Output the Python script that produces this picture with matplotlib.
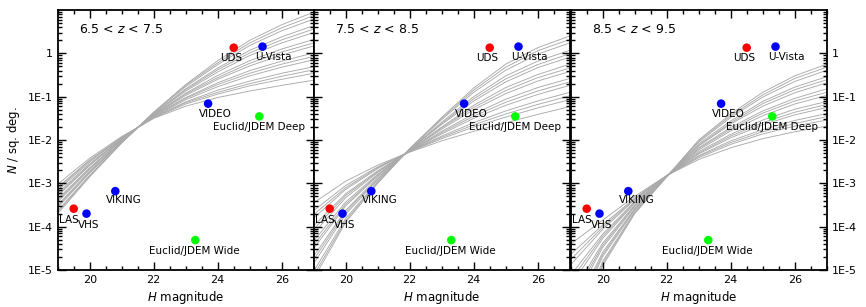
import numpy as np
import matplotlib.pyplot as plt
from matplotlib.ticker import FixedLocator, LogLocator, MultipleLocator, NullFormatter

# ------------------- Data: ---------------------------------------------------------
H_GRID = [19, 20, 21, 22, 23, 24, 25, 26, 27]

# log10 N(<H) per sq. deg., one row per model curve
LOGN_Z7 = [
    [-3.02, -2.42, -1.92, -1.50, -1.22, -1.02, -0.87, -0.74, -0.62],
    [-3.09, -2.46, -1.94, -1.49, -1.17, -0.94, -0.75, -0.60, -0.46],
    [-3.12, -2.48, -1.94, -1.48, -1.14, -0.90, -0.70, -0.53, -0.38],
    [-3.16, -2.51, -1.95, -1.47, -1.12, -0.85, -0.64, -0.46, -0.31],
    [-3.22, -2.55, -1.97, -1.46, -1.07, -0.77, -0.52, -0.32, -0.15],
    [-3.26, -2.57, -1.98, -1.45, -1.04, -0.72, -0.46, -0.25, -0.07],
    [-3.29, -2.59, -1.98, -1.44, -1.02, -0.68, -0.40, -0.18, 0.01],
    [-3.36, -2.64, -2.00, -1.43, -0.97, -0.60, -0.29, -0.04, 0.17],
    [-3.40, -2.66, -2.00, -1.42, -0.94, -0.56, -0.23, 0.03, 0.24],
    [-3.43, -2.68, -2.01, -1.42, -0.92, -0.51, -0.17, 0.10, 0.32],
    [-3.50, -2.72, -2.03, -1.40, -0.87, -0.43, -0.05, 0.24, 0.48],
    [-3.53, -2.74, -2.04, -1.40, -0.84, -0.38, 0.01, 0.31, 0.56],
    [-3.56, -2.76, -2.04, -1.39, -0.82, -0.34, 0.07, 0.38, 0.64],
    [-3.63, -2.81, -2.06, -1.37, -0.77, -0.26, 0.18, 0.52, 0.79],
    [-3.66, -2.83, -2.06, -1.36, -0.74, -0.22, 0.24, 0.59, 0.87],
    [-3.70, -2.85, -2.07, -1.36, -0.72, -0.17, 0.30, 0.66, 0.95],
]

LOGN_Z8 = [
    [-3.45, -2.95, -2.58, -2.28, -2.02, -1.80, -1.60, -1.41, -1.23],
    [-3.63, -3.05, -2.62, -2.27, -1.97, -1.70, -1.47, -1.26, -1.07],
    [-3.72, -3.10, -2.64, -2.26, -1.94, -1.65, -1.40, -1.18, -0.98],
    [-3.80, -3.14, -2.66, -2.26, -1.91, -1.60, -1.33, -1.10, -0.90],
    [-3.98, -3.24, -2.71, -2.26, -1.86, -1.50, -1.20, -0.95, -0.74],
    [-4.06, -3.28, -2.73, -2.26, -1.83, -1.45, -1.13, -0.87, -0.66],
    [-4.15, -3.33, -2.75, -2.25, -1.80, -1.40, -1.06, -0.79, -0.58],
    [-4.33, -3.43, -2.79, -2.24, -1.75, -1.30, -0.93, -0.64, -0.42],
    [-4.42, -3.48, -2.81, -2.24, -1.72, -1.25, -0.86, -0.56, -0.34],
    [-4.50, -3.52, -2.83, -2.23, -1.70, -1.20, -0.79, -0.49, -0.25],
    [-4.68, -3.62, -2.87, -2.22, -1.64, -1.10, -0.66, -0.33, -0.09],
    [-4.76, -3.66, -2.90, -2.22, -1.62, -1.05, -0.59, -0.26, -0.01],
    [-4.85, -3.71, -2.92, -2.22, -1.59, -1.00, -0.52, -0.18, 0.07],
    [-5.03, -3.81, -2.96, -2.21, -1.53, -0.90, -0.39, -0.02, 0.24],
    [-5.12, -3.86, -2.98, -2.20, -1.50, -0.85, -0.32, 0.06, 0.32],
    [-5.20, -3.90, -3.00, -2.20, -1.48, -0.80, -0.25, 0.13, 0.40],
]

LOGN_Z9 = [
    [-4.40, -3.85, -3.30, -2.82, -2.45, -2.18, -1.97, -1.81, -1.68],
    [-4.64, -3.96, -3.34, -2.82, -2.41, -2.10, -1.86, -1.68, -1.54],
    [-4.76, -4.01, -3.36, -2.82, -2.38, -2.06, -1.81, -1.62, -1.46],
    [-4.88, -4.06, -3.38, -2.83, -2.36, -2.02, -1.76, -1.55, -1.39],
    [-5.12, -4.17, -3.42, -2.83, -2.32, -1.95, -1.65, -1.42, -1.25],
    [-5.24, -4.22, -3.44, -2.83, -2.30, -1.91, -1.60, -1.36, -1.18],
    [-5.36, -4.27, -3.46, -2.83, -2.27, -1.87, -1.54, -1.29, -1.11],
    [-5.60, -4.38, -3.50, -2.84, -2.23, -1.79, -1.44, -1.17, -0.97],
    [-5.72, -4.43, -3.52, -2.84, -2.20, -1.75, -1.38, -1.10, -0.90],
    [-5.84, -4.48, -3.54, -2.84, -2.18, -1.71, -1.33, -1.04, -0.82],
    [-6.08, -4.59, -3.58, -2.84, -2.14, -1.63, -1.22, -0.91, -0.68],
    [-6.20, -4.64, -3.60, -2.84, -2.12, -1.60, -1.16, -0.84, -0.61],
    [-6.32, -4.69, -3.62, -2.84, -2.09, -1.56, -1.11, -0.78, -0.54],
    [-6.56, -4.80, -3.66, -2.85, -2.05, -1.48, -1.01, -0.65, -0.39],
    [-6.68, -4.85, -3.68, -2.85, -2.02, -1.44, -0.96, -0.58, -0.32],
    [-6.80, -4.90, -3.70, -2.85, -2.00, -1.40, -0.90, -0.52, -0.25],
]

PANEL_TITLES = ['6.5 < $z$ < 7.5', '7.5 < $z$ < 8.5', '8.5 < $z$ < 9.5']

SURVEYS = ['UDS', 'U-Vista', 'VIDEO', 'Euclid/JDEM Deep',
           'VIKING', 'LAS', 'VHS', 'Euclid/JDEM Wide']
SURVEY_H = [24.5, 25.4, 23.7, 25.3, 20.8, 19.5, 19.9, 23.3]
SURVEY_N = [1.35, 1.43, 0.069, 0.035, 6.6e-4, 2.6e-4, 2.0e-4, 4.9e-5]
SURVEY_COLORS = ['#ff0000', '#0000ff', '#0000ff', '#00ff00',
                 '#0000ff', '#ff0000', '#0000ff', '#00ff00']

YTICKS = [1e-5, 1e-4, 1e-3, 1e-2, 1e-1, 1]
YTICKLABELS = ['1E-5', '1E-4', '1E-3', '1E-2', '1E-1', '1']
XTICKS = [20, 22, 24, 26]

# label offsets from the dots, in pixels
LABEL_OFFSETS = [(-3, -10), (11, -10), (7, -10), (0, -11),
                 (8, -9), (-5, -11), (2, -11), (-1, -11)]

# ------------------- Plotting: -----------------------------------------------------
plt.rcParams['font.family'] = 'DejaVu Sans'
plt.rcParams['mathtext.fontset'] = 'dejavusans'

fig = plt.figure(figsize=(8.66, 3.07), dpi=100)

panel_w = 256 / 866.0
panel_h = 260 / 307.0
bottom = 37 / 307.0
lefts = [57.7 / 866.0, 313.7 / 866.0, 570.7 / 866.0]

curves = [LOGN_Z7, LOGN_Z8, LOGN_Z9]

for i in range(3):
    ax = fig.add_axes([lefts[i], bottom, panel_w, panel_h])

    for row in curves[i]:
        ax.plot(H_GRID, 10 ** np.array(row), color='#aaaaaa', lw=0.65, zorder=1)

    ax.scatter(SURVEY_H, SURVEY_N, s=38, c=SURVEY_COLORS, zorder=3, linewidths=0)
    for name, h, n, off in zip(SURVEYS, SURVEY_H, SURVEY_N, LABEL_OFFSETS):
        ax.annotate(name, (h, n), xytext=off, textcoords='offset pixels',
                    ha='center', va='center', fontsize=7.5, zorder=4)

    ax.text(0.083, 0.925, PANEL_TITLES[i], transform=ax.transAxes,
            ha='left', va='center', fontsize=9)

    ax.set_yscale('log')
    ax.set_xlim(19, 27)
    ax.set_ylim(1e-5, 10)

    ax.xaxis.set_major_locator(FixedLocator(XTICKS))
    ax.xaxis.set_minor_locator(MultipleLocator(0.5))
    ax.yaxis.set_major_locator(FixedLocator(YTICKS))
    ax.yaxis.set_minor_locator(LogLocator(base=10, subs=np.arange(2, 10)))
    ax.yaxis.set_minor_formatter(NullFormatter())
    ax.set_yticklabels(YTICKLABELS)

    ax.tick_params(which='both', direction='in', top=True, right=True,
                   labelsize=8, width=1.0)
    ax.tick_params(which='major', length=6)
    ax.tick_params(which='minor', length=3)
    ax.tick_params(axis='y', labelleft=(i == 0), labelright=(i == 2))

    for sp in ax.spines.values():
        sp.set_linewidth(1.3)

    ax.set_xlabel('$H$ magnitude', fontsize=8.5, labelpad=3)
    if i == 0:
        ax.set_ylabel('$N$ / sq. deg.', fontsize=8.5, labelpad=4)

fig.savefig('out.png', dpi=100)
